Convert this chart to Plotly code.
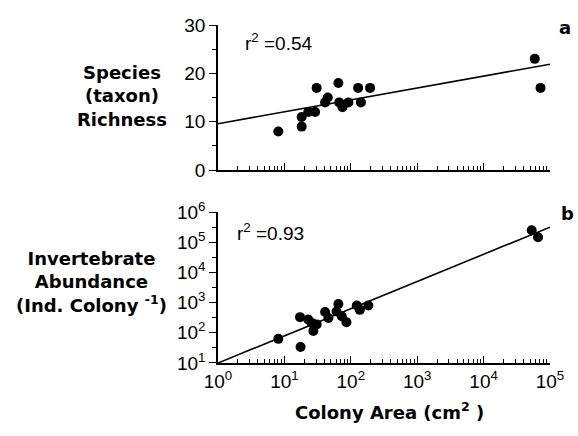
import numpy as np
import plotly.graph_objects as go

# ---- data ----
area_a = [8.1, 18.2, 18.2, 22.9, 29, 30.6, 41, 45, 65, 67, 75, 92, 129, 142, 195, 59000, 72000]
richness = [8, 11, 9, 12, 12, 17, 14, 15, 18, 14, 13, 14, 17, 14, 17, 23, 17]

area_b = [8.1, 17.2, 17.5, 22.9, 25.7, 27.3, 30.6, 41, 46, 65, 61, 73, 86, 123, 137, 184, 53000, 66000]
abundance = [63, 330, 34, 277, 213, 115, 190, 490, 310, 900, 510, 355, 225, 800, 575, 800, 250000, 145000]

# fitted lines: richness = a0 + a1*log10(area); abundance = b0 * area**b1
fit_a = [9.6, 2.46]
fit_b = [10.0, 0.9]
fit_range = [1, 100000]

x_tickvals = [1, 10, 100, 1000, 10000, 100000]
x_ticktext = ["10<sup>0</sup>", "10<sup>1</sup>", "10<sup>2</sup>", "10<sup>3</sup>", "10<sup>4</sup>", "10<sup>5</sup>"]
yb_tickvals = [10, 100, 1000, 10000, 100000, 1000000]
yb_ticktext = ["10<sup>1</sup>", "10<sup>2</sup>", "10<sup>3</sup>", "10<sup>4</sup>", "10<sup>5</sup>", "10<sup>6</sup>"]
ya_tickvals = [0, 10, 20, 30]

FONT = "Liberation Sans, Arial, Helvetica, sans-serif"
BOLD = "DejaVu Sans, Liberation Sans, sans-serif"

x_minor = [m * d for d in x_tickvals[:-1] for m in range(2, 10)]
yb_minor = [3.1623 * d for d in yb_tickvals[:-1]]

xl = np.array(fit_range, dtype=float)
line_a = fit_a[0] + fit_a[1] * np.log10(xl)
line_b = fit_b[0] * xl ** fit_b[1]

fig = go.Figure()
fig.add_trace(go.Scatter(x=xl, y=line_a, mode="lines", line=dict(color="black", width=1.6),
                         xaxis="x", yaxis="y", showlegend=False, cliponaxis=False))
fig.add_trace(go.Scatter(x=area_a, y=richness, mode="markers",
                         marker=dict(color="black", size=10), xaxis="x", yaxis="y",
                         showlegend=False, cliponaxis=False))
fig.add_trace(go.Scatter(x=xl, y=line_b, mode="lines", line=dict(color="black", width=1.6),
                         xaxis="x2", yaxis="y2", showlegend=False, cliponaxis=False))
fig.add_trace(go.Scatter(x=area_b, y=abundance, mode="markers",
                         marker=dict(color="black", size=10), xaxis="x2", yaxis="y2",
                         showlegend=False, cliponaxis=False))

common_x = dict(type="log", range=[0, 5], showgrid=False, zeroline=False,
                showline=True, linecolor="black", linewidth=1.5, mirror=False,
                ticks="inside", ticklen=7, tickwidth=1.4, tickcolor="black",
                tickvals=x_tickvals,
                minor=dict(ticks="inside", ticklen=4, tickwidth=1.2, tickcolor="black",
                           tickvals=x_minor, showgrid=False))

fig.update_layout(
    width=578, height=436,
    margin=dict(l=218, r=28, t=16, b=73),
    paper_bgcolor="white", plot_bgcolor="white",
    font=dict(family=FONT, size=19, color="black"),
    xaxis=dict(**common_x, anchor="y", showticklabels=False),
    yaxis=dict(domain=[0.5706, 1], range=[0, 30], showgrid=False, zeroline=False,
               showline=True, linecolor="black", linewidth=1.5,
               ticks="outside", ticklen=7, tickwidth=1.4, tickcolor="black",
               tickvals=ya_tickvals, tickfont=dict(size=19),
               minor=dict(ticks="outside", ticklen=4, dtick=5, tickwidth=1.2, tickcolor="black", showgrid=False)),
    xaxis2=dict(**common_x, anchor="y2", ticktext=x_ticktext, tickfont=dict(size=19)),
    yaxis2=dict(domain=[0, 0.4467], type="log", range=[1, 6], showgrid=False, zeroline=False,
                showline=True, linecolor="black", linewidth=1.5,
                ticks="outside", ticklen=7, tickwidth=1.4, tickcolor="black",
                tickvals=yb_tickvals, ticktext=yb_ticktext, tickfont=dict(size=19),
                minor=dict(ticks="outside", ticklen=4, tickvals=yb_minor, tickwidth=1.2,
                           tickcolor="black", showgrid=False)),
)

ann = [
    dict(text="r<sup>2</sup> =0.54", x=0.075, y=0.951, xanchor="left", yanchor="middle", font=dict(size=19)),
    dict(text="<b>a</b>", x=1.045, y=0.994, xanchor="center", yanchor="middle", font=dict(size=18, family=BOLD)),
    dict(text="r<sup>2</sup> =0.93", x=0.051, y=0.389, xanchor="left", yanchor="middle", font=dict(size=19)),
    dict(text="<b>b</b>", x=1.054, y=0.441, xanchor="center", yanchor="middle", font=dict(size=18, family=BOLD)),
    dict(text="<b>Species<br>(taxon)<br>Richness</b>", x=-0.289, y=0.79, xanchor="center", yanchor="middle",
         font=dict(size=18, family=BOLD)),
    dict(text="<b>Invertebrate<br>Abundance<br>(Ind. Colony <sup>-1</sup>)</b>", x=-0.38, y=0.239,
         xanchor="center", yanchor="middle", font=dict(size=18, family=BOLD)),
    dict(text="<b>Colony Area (cm<sup>2</sup> )</b>", x=0.518, y=-0.141, xanchor="center", yanchor="middle",
         font=dict(size=18, family=BOLD)),
]
for a in ann:
    a.update(xref="paper", yref="paper", showarrow=False)
fig.update_layout(annotations=ann)

fig.write_html("out.html")
